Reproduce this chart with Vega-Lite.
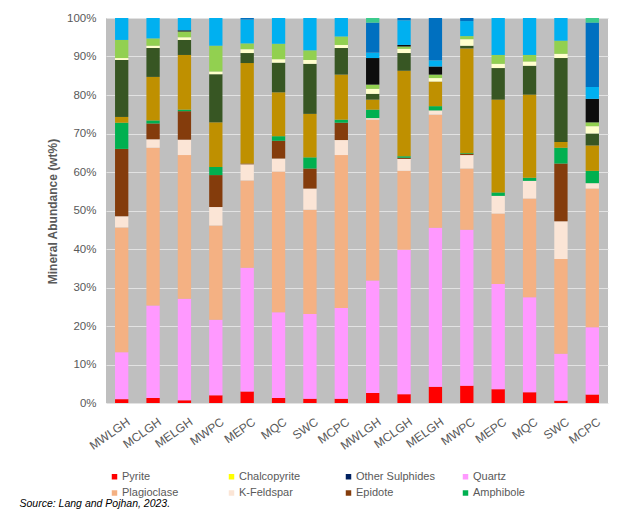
{
  "$schema": "https://vega.github.io/schema/vega-lite/v6.json",
  "width": 502,
  "height": 385,
  "autosize": "none",
  "padding": {"left": 106, "top": 18, "right": 17, "bottom": 120},
  "background": "white",
  "datasets": {
    "minerals": [
      {"mineral": "Pyrite", "rank": 1},
      {"mineral": "Chalcopyrite", "rank": 2},
      {"mineral": "Other Sulphides", "rank": 3},
      {"mineral": "Quartz", "rank": 4},
      {"mineral": "Plagioclase", "rank": 5},
      {"mineral": "K-Feldspar", "rank": 6},
      {"mineral": "Epidote", "rank": 7},
      {"mineral": "Amphibole", "rank": 8},
      {"mineral": "Muscovite", "rank": 9},
      {"mineral": "Chlorite", "rank": 10},
      {"mineral": "Kaolinite", "rank": 11},
      {"mineral": "Smectite", "rank": 12},
      {"mineral": "Magnetite", "rank": 13},
      {"mineral": "Calcite", "rank": 14},
      {"mineral": "Dolomite", "rank": 15},
      {"mineral": "Other", "rank": 16}
    ]
  },
  "data": {
    "values": [
      {"sample": "MWLGH_1", "mineral": "Pyrite", "wt": 1.0},
      {"sample": "MWLGH_1", "mineral": "Quartz", "wt": 12.2},
      {"sample": "MWLGH_1", "mineral": "Plagioclase", "wt": 32.4},
      {"sample": "MWLGH_1", "mineral": "K-Feldspar", "wt": 2.9},
      {"sample": "MWLGH_1", "mineral": "Epidote", "wt": 17.5},
      {"sample": "MWLGH_1", "mineral": "Amphibole", "wt": 6.8},
      {"sample": "MWLGH_1", "mineral": "Muscovite", "wt": 1.5},
      {"sample": "MWLGH_1", "mineral": "Chlorite", "wt": 14.8},
      {"sample": "MWLGH_1", "mineral": "Kaolinite", "wt": 0.5},
      {"sample": "MWLGH_1", "mineral": "Smectite", "wt": 4.7},
      {"sample": "MWLGH_1", "mineral": "Calcite", "wt": 5.7},

      {"sample": "MCLGH_1", "mineral": "Pyrite", "wt": 1.3},
      {"sample": "MCLGH_1", "mineral": "Quartz", "wt": 24.0},
      {"sample": "MCLGH_1", "mineral": "Plagioclase", "wt": 41.0},
      {"sample": "MCLGH_1", "mineral": "K-Feldspar", "wt": 2.2},
      {"sample": "MCLGH_1", "mineral": "Epidote", "wt": 4.1},
      {"sample": "MCLGH_1", "mineral": "Amphibole", "wt": 0.8},
      {"sample": "MCLGH_1", "mineral": "Muscovite", "wt": 11.3},
      {"sample": "MCLGH_1", "mineral": "Chlorite", "wt": 7.5},
      {"sample": "MCLGH_1", "mineral": "Kaolinite", "wt": 0.6},
      {"sample": "MCLGH_1", "mineral": "Smectite", "wt": 1.9},
      {"sample": "MCLGH_1", "mineral": "Calcite", "wt": 5.3},

      {"sample": "MELGH_1", "mineral": "Pyrite", "wt": 0.7},
      {"sample": "MELGH_1", "mineral": "Quartz", "wt": 26.4},
      {"sample": "MELGH_1", "mineral": "Plagioclase", "wt": 37.3},
      {"sample": "MELGH_1", "mineral": "K-Feldspar", "wt": 4.0},
      {"sample": "MELGH_1", "mineral": "Epidote", "wt": 7.4},
      {"sample": "MELGH_1", "mineral": "Amphibole", "wt": 0.4},
      {"sample": "MELGH_1", "mineral": "Muscovite", "wt": 14.2},
      {"sample": "MELGH_1", "mineral": "Chlorite", "wt": 3.9},
      {"sample": "MELGH_1", "mineral": "Kaolinite", "wt": 0.7},
      {"sample": "MELGH_1", "mineral": "Smectite", "wt": 1.5},
      {"sample": "MELGH_1", "mineral": "Magnetite", "wt": 0.3},
      {"sample": "MELGH_1", "mineral": "Calcite", "wt": 3.2},

      {"sample": "MWPC_1", "mineral": "Pyrite", "wt": 2.0},
      {"sample": "MWPC_1", "mineral": "Quartz", "wt": 19.6},
      {"sample": "MWPC_1", "mineral": "Plagioclase", "wt": 24.5},
      {"sample": "MWPC_1", "mineral": "K-Feldspar", "wt": 4.8},
      {"sample": "MWPC_1", "mineral": "Epidote", "wt": 8.3},
      {"sample": "MWPC_1", "mineral": "Amphibole", "wt": 2.1},
      {"sample": "MWPC_1", "mineral": "Muscovite", "wt": 11.6},
      {"sample": "MWPC_1", "mineral": "Chlorite", "wt": 12.5},
      {"sample": "MWPC_1", "mineral": "Kaolinite", "wt": 0.7},
      {"sample": "MWPC_1", "mineral": "Smectite", "wt": 6.7},
      {"sample": "MWPC_1", "mineral": "Calcite", "wt": 7.2},

      {"sample": "MEPC_1", "mineral": "Pyrite", "wt": 3.0},
      {"sample": "MEPC_1", "mineral": "Quartz", "wt": 32.1},
      {"sample": "MEPC_1", "mineral": "Plagioclase", "wt": 22.7},
      {"sample": "MEPC_1", "mineral": "K-Feldspar", "wt": 4.2},
      {"sample": "MEPC_1", "mineral": "Epidote", "wt": 0.2},
      {"sample": "MEPC_1", "mineral": "Muscovite", "wt": 26.1},
      {"sample": "MEPC_1", "mineral": "Chlorite", "wt": 2.6},
      {"sample": "MEPC_1", "mineral": "Kaolinite", "wt": 1.0},
      {"sample": "MEPC_1", "mineral": "Smectite", "wt": 1.5},
      {"sample": "MEPC_1", "mineral": "Calcite", "wt": 6.2},
      {"sample": "MEPC_1", "mineral": "Dolomite", "wt": 0.4},

      {"sample": "MQC_1", "mineral": "Pyrite", "wt": 1.3},
      {"sample": "MQC_1", "mineral": "Quartz", "wt": 22.3},
      {"sample": "MQC_1", "mineral": "Plagioclase", "wt": 36.5},
      {"sample": "MQC_1", "mineral": "K-Feldspar", "wt": 3.4},
      {"sample": "MQC_1", "mineral": "Epidote", "wt": 4.6},
      {"sample": "MQC_1", "mineral": "Amphibole", "wt": 1.2},
      {"sample": "MQC_1", "mineral": "Muscovite", "wt": 11.4},
      {"sample": "MQC_1", "mineral": "Chlorite", "wt": 7.7},
      {"sample": "MQC_1", "mineral": "Kaolinite", "wt": 0.9},
      {"sample": "MQC_1", "mineral": "Smectite", "wt": 4.0},
      {"sample": "MQC_1", "mineral": "Calcite", "wt": 6.7},

      {"sample": "SWC_1", "mineral": "Pyrite", "wt": 1.1},
      {"sample": "SWC_1", "mineral": "Quartz", "wt": 22.0},
      {"sample": "SWC_1", "mineral": "Plagioclase", "wt": 27.1},
      {"sample": "SWC_1", "mineral": "K-Feldspar", "wt": 5.5},
      {"sample": "SWC_1", "mineral": "Epidote", "wt": 5.2},
      {"sample": "SWC_1", "mineral": "Amphibole", "wt": 2.9},
      {"sample": "SWC_1", "mineral": "Muscovite", "wt": 11.3},
      {"sample": "SWC_1", "mineral": "Chlorite", "wt": 13.0},
      {"sample": "SWC_1", "mineral": "Kaolinite", "wt": 1.0},
      {"sample": "SWC_1", "mineral": "Smectite", "wt": 2.5},
      {"sample": "SWC_1", "mineral": "Calcite", "wt": 8.4},

      {"sample": "MCPC_1", "mineral": "Pyrite", "wt": 1.1},
      {"sample": "MCPC_1", "mineral": "Quartz", "wt": 23.6},
      {"sample": "MCPC_1", "mineral": "Plagioclase", "wt": 39.7},
      {"sample": "MCPC_1", "mineral": "K-Feldspar", "wt": 3.9},
      {"sample": "MCPC_1", "mineral": "Epidote", "wt": 4.5},
      {"sample": "MCPC_1", "mineral": "Amphibole", "wt": 0.8},
      {"sample": "MCPC_1", "mineral": "Muscovite", "wt": 11.7},
      {"sample": "MCPC_1", "mineral": "Chlorite", "wt": 6.9},
      {"sample": "MCPC_1", "mineral": "Kaolinite", "wt": 0.8},
      {"sample": "MCPC_1", "mineral": "Smectite", "wt": 2.2},
      {"sample": "MCPC_1", "mineral": "Calcite", "wt": 4.8},

      {"sample": "MWLGH_2", "mineral": "Pyrite", "wt": 2.6},
      {"sample": "MWLGH_2", "mineral": "Quartz", "wt": 29.2},
      {"sample": "MWLGH_2", "mineral": "Plagioclase", "wt": 41.8},
      {"sample": "MWLGH_2", "mineral": "K-Feldspar", "wt": 0.4},
      {"sample": "MWLGH_2", "mineral": "Amphibole", "wt": 2.2},
      {"sample": "MWLGH_2", "mineral": "Muscovite", "wt": 2.6},
      {"sample": "MWLGH_2", "mineral": "Chlorite", "wt": 1.5},
      {"sample": "MWLGH_2", "mineral": "Kaolinite", "wt": 1.3},
      {"sample": "MWLGH_2", "mineral": "Smectite", "wt": 1.1},
      {"sample": "MWLGH_2", "mineral": "Magnetite", "wt": 6.9},
      {"sample": "MWLGH_2", "mineral": "Calcite", "wt": 1.4},
      {"sample": "MWLGH_2", "mineral": "Dolomite", "wt": 7.8},
      {"sample": "MWLGH_2", "mineral": "Other", "wt": 1.2},

      {"sample": "MCLGH_2", "mineral": "Pyrite", "wt": 2.3},
      {"sample": "MCLGH_2", "mineral": "Quartz", "wt": 37.5},
      {"sample": "MCLGH_2", "mineral": "Plagioclase", "wt": 20.5},
      {"sample": "MCLGH_2", "mineral": "K-Feldspar", "wt": 3.1},
      {"sample": "MCLGH_2", "mineral": "Epidote", "wt": 0.3},
      {"sample": "MCLGH_2", "mineral": "Amphibole", "wt": 0.4},
      {"sample": "MCLGH_2", "mineral": "Muscovite", "wt": 22.2},
      {"sample": "MCLGH_2", "mineral": "Chlorite", "wt": 4.6},
      {"sample": "MCLGH_2", "mineral": "Kaolinite", "wt": 1.1},
      {"sample": "MCLGH_2", "mineral": "Smectite", "wt": 0.6},
      {"sample": "MCLGH_2", "mineral": "Magnetite", "wt": 0.4},
      {"sample": "MCLGH_2", "mineral": "Calcite", "wt": 6.4},
      {"sample": "MCLGH_2", "mineral": "Dolomite", "wt": 0.6},

      {"sample": "MELGH_2", "mineral": "Pyrite", "wt": 4.2},
      {"sample": "MELGH_2", "mineral": "Quartz", "wt": 41.3},
      {"sample": "MELGH_2", "mineral": "Plagioclase", "wt": 29.4},
      {"sample": "MELGH_2", "mineral": "K-Feldspar", "wt": 1.1},
      {"sample": "MELGH_2", "mineral": "Amphibole", "wt": 1.1},
      {"sample": "MELGH_2", "mineral": "Muscovite", "wt": 6.4},
      {"sample": "MELGH_2", "mineral": "Kaolinite", "wt": 0.9},
      {"sample": "MELGH_2", "mineral": "Smectite", "wt": 0.9},
      {"sample": "MELGH_2", "mineral": "Magnetite", "wt": 2.1},
      {"sample": "MELGH_2", "mineral": "Calcite", "wt": 1.6},
      {"sample": "MELGH_2", "mineral": "Dolomite", "wt": 11.0},

      {"sample": "MWPC_2", "mineral": "Pyrite", "wt": 4.5},
      {"sample": "MWPC_2", "mineral": "Quartz", "wt": 40.5},
      {"sample": "MWPC_2", "mineral": "Plagioclase", "wt": 15.9},
      {"sample": "MWPC_2", "mineral": "K-Feldspar", "wt": 3.5},
      {"sample": "MWPC_2", "mineral": "Epidote", "wt": 0.3},
      {"sample": "MWPC_2", "mineral": "Amphibole", "wt": 0.2},
      {"sample": "MWPC_2", "mineral": "Muscovite", "wt": 27.2},
      {"sample": "MWPC_2", "mineral": "Chlorite", "wt": 0.7},
      {"sample": "MWPC_2", "mineral": "Kaolinite", "wt": 1.7},
      {"sample": "MWPC_2", "mineral": "Smectite", "wt": 0.8},
      {"sample": "MWPC_2", "mineral": "Calcite", "wt": 3.9},
      {"sample": "MWPC_2", "mineral": "Dolomite", "wt": 0.8},

      {"sample": "MEPC_2", "mineral": "Pyrite", "wt": 3.6},
      {"sample": "MEPC_2", "mineral": "Quartz", "wt": 27.3},
      {"sample": "MEPC_2", "mineral": "Plagioclase", "wt": 18.3},
      {"sample": "MEPC_2", "mineral": "K-Feldspar", "wt": 4.6},
      {"sample": "MEPC_2", "mineral": "Amphibole", "wt": 0.9},
      {"sample": "MEPC_2", "mineral": "Muscovite", "wt": 24.1},
      {"sample": "MEPC_2", "mineral": "Chlorite", "wt": 8.2},
      {"sample": "MEPC_2", "mineral": "Kaolinite", "wt": 1.1},
      {"sample": "MEPC_2", "mineral": "Smectite", "wt": 2.3},
      {"sample": "MEPC_2", "mineral": "Calcite", "wt": 9.6},

      {"sample": "MQC_2", "mineral": "Pyrite", "wt": 2.8},
      {"sample": "MQC_2", "mineral": "Quartz", "wt": 24.7},
      {"sample": "MQC_2", "mineral": "Plagioclase", "wt": 25.6},
      {"sample": "MQC_2", "mineral": "K-Feldspar", "wt": 4.6},
      {"sample": "MQC_2", "mineral": "Amphibole", "wt": 0.8},
      {"sample": "MQC_2", "mineral": "Muscovite", "wt": 21.6},
      {"sample": "MQC_2", "mineral": "Chlorite", "wt": 7.5},
      {"sample": "MQC_2", "mineral": "Kaolinite", "wt": 1.1},
      {"sample": "MQC_2", "mineral": "Smectite", "wt": 1.7},
      {"sample": "MQC_2", "mineral": "Calcite", "wt": 9.6},

      {"sample": "SWC_2", "mineral": "Pyrite", "wt": 0.6},
      {"sample": "SWC_2", "mineral": "Quartz", "wt": 12.2},
      {"sample": "SWC_2", "mineral": "Plagioclase", "wt": 24.6},
      {"sample": "SWC_2", "mineral": "K-Feldspar", "wt": 9.8},
      {"sample": "SWC_2", "mineral": "Epidote", "wt": 15.0},
      {"sample": "SWC_2", "mineral": "Amphibole", "wt": 4.1},
      {"sample": "SWC_2", "mineral": "Muscovite", "wt": 1.5},
      {"sample": "SWC_2", "mineral": "Chlorite", "wt": 21.8},
      {"sample": "SWC_2", "mineral": "Kaolinite", "wt": 1.1},
      {"sample": "SWC_2", "mineral": "Smectite", "wt": 3.4},
      {"sample": "SWC_2", "mineral": "Calcite", "wt": 5.9},

      {"sample": "MCPC_2", "mineral": "Pyrite", "wt": 2.2},
      {"sample": "MCPC_2", "mineral": "Quartz", "wt": 17.5},
      {"sample": "MCPC_2", "mineral": "Plagioclase", "wt": 36.0},
      {"sample": "MCPC_2", "mineral": "K-Feldspar", "wt": 1.4},
      {"sample": "MCPC_2", "mineral": "Amphibole", "wt": 3.2},
      {"sample": "MCPC_2", "mineral": "Muscovite", "wt": 6.6},
      {"sample": "MCPC_2", "mineral": "Chlorite", "wt": 3.1},
      {"sample": "MCPC_2", "mineral": "Kaolinite", "wt": 1.9},
      {"sample": "MCPC_2", "mineral": "Smectite", "wt": 1.0},
      {"sample": "MCPC_2", "mineral": "Magnetite", "wt": 6.1},
      {"sample": "MCPC_2", "mineral": "Calcite", "wt": 3.1},
      {"sample": "MCPC_2", "mineral": "Dolomite", "wt": 16.7},
      {"sample": "MCPC_2", "mineral": "Other", "wt": 1.2}
    ]
  },
  "transform": [
    {"lookup": "mineral", "from": {"data": {"name": "minerals"}, "key": "mineral", "fields": ["rank"]}}
  ],
  "mark": {"type": "bar"},
  "encoding": {
    "x": {
      "field": "sample",
      "type": "nominal",
      "scale": {
        "domain": ["MWLGH_1", "MCLGH_1", "MELGH_1", "MWPC_1", "MEPC_1", "MQC_1", "SWC_1", "MCPC_1",
                   "MWLGH_2", "MCLGH_2", "MELGH_2", "MWPC_2", "MEPC_2", "MQC_2", "SWC_2", "MCPC_2"],
        "paddingInner": 0.576,
        "paddingOuter": 0.288
      },
      "axis": {
        "title": "Source: Lang and Pojhan, 2023.",
        "titleX": -87,
        "titleY": 103,
        "titleAlign": "left",
        "titleBaseline": "alphabetic",
        "titleFontSize": 10.5,
        "titleFontStyle": "italic",
        "titleFontWeight": "normal",
        "titleColor": "#000000",
        "labelExpr": "split(datum.label, '_')[0]",
        "labelAngle": -35,
        "labelFontSize": 12,
        "labelColor": "#595959",
        "labelPadding": 13,
        "labelOffset": 4,
        "ticks": false,
        "domain": false
      }
    },
    "y": {
      "field": "wt",
      "type": "quantitative",
      "stack": "normalize",
      "scale": {"domain": [0, 1], "nice": false},
      "axis": {
        "title": "Mineral Abundance (wt%)",
        "titleX": -54,
        "titleY": 193,
        "titleBaseline": "middle",
        "titleFontSize": 12,
        "titleFontWeight": "bold",
        "titleColor": "#595959",
        "values": [0, 0.1, 0.2, 0.3, 0.4, 0.5, 0.6, 0.7, 0.8, 0.9, 1],
        "format": ".0%",
        "labelFontSize": 11.5,
        "labelColor": "#595959",
        "labelPadding": 10,
        "ticks": false,
        "domain": false,
        "grid": true,
        "gridColor": "#E2E2E2",
        "gridWidth": 1
      }
    },
    "order": {"field": "rank", "type": "quantitative", "sort": "ascending"},
    "color": {
      "field": "mineral",
      "type": "nominal",
      "scale": {
        "domain": ["Pyrite", "Chalcopyrite", "Other Sulphides", "Quartz", "Plagioclase", "K-Feldspar", "Epidote", "Amphibole",
                   "Muscovite", "Chlorite", "Kaolinite", "Smectite", "Magnetite", "Calcite", "Dolomite", "Other"],
        "range": ["#FF0000", "#FFFF00", "#002060", "#FF99FF", "#F4B183", "#FBE5D6", "#843C0C", "#00B050",
                  "#BF9000", "#375623", "#FFFFCC", "#92D050", "#0D0D0D", "#00B0F0", "#0070C0", "#3CCB8C"]
      },
      "legend": {
        "title": null,
        "values": ["Pyrite", "Chalcopyrite", "Other Sulphides", "Quartz", "Plagioclase", "K-Feldspar", "Epidote", "Amphibole"],
        "orient": "none",
        "legendX": 3,
        "legendY": 453,
        "direction": "horizontal",
        "columns": 4,
        "gridAlign": "all",
        "columnPadding": 25,
        "rowPadding": 4.5,
        "padding": 0,
        "symbolType": "square",
        "symbolSize": 30,
        "symbolStrokeWidth": 0,
        "labelFontSize": 11,
        "labelColor": "#595959",
        "labelOffset": 2
      }
    }
  },
  "config": {
    "font": "Liberation Sans",
    "view": {"fill": "#BFBFBF", "stroke": null}
  }
}
